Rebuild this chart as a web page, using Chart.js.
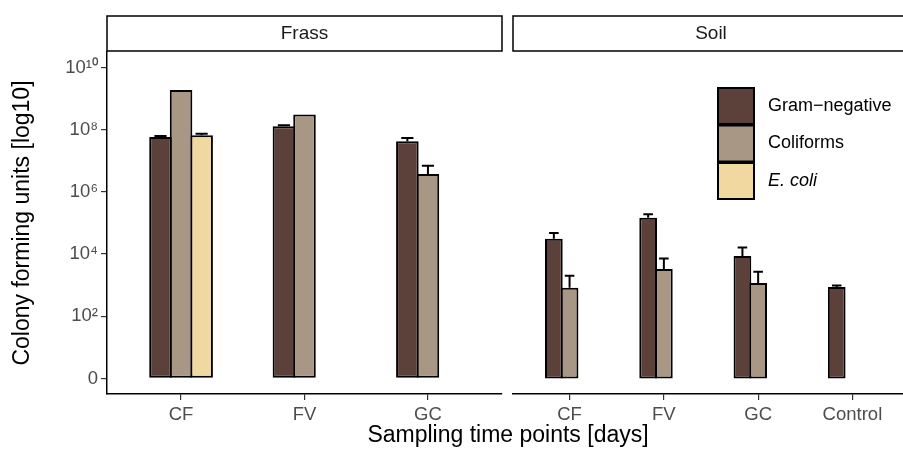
<!DOCTYPE html>
<html>
<head>
<meta charset="utf-8">
<script src="https://cdn.jsdelivr.net/npm/chart.js@4"></script>
<style>
  html, body { margin: 0; padding: 0; background: #fff; }
  #wrap { position: relative; width: 903px; height: 450px; overflow: hidden; font-family: 'Liberation Sans', Arial, sans-serif; }
  #frass { position: absolute; left: 0; top: 0; }
  #soil { position: absolute; left: 506px; top: 0; }
  #xtitle { position: absolute; left: 0; width: 1016px; top: 423px; text-align: center; font-size: 23px; line-height: 23px; color: #000; }
</style>
</head>
<body>
<div id="wrap">
  <canvas id="frass" width="506" height="450"></canvas>
  <canvas id="soil" width="407" height="450"></canvas>
  <div id="xtitle">Sampling time points [days]</div>
</div>
<script>
// categories per facet
const frassCats = ['CF', 'FV', 'GC'];
const soilCats = ['CF', 'FV', 'GC', 'Control'];
const seriesNames = ['Gram\u2212negative', 'Coliforms', 'E. coli'];
const seriesItalic = [false, false, true];
const seriesColors = ['#5b4139', '#a89784', '#f0d8a0'];

// bar heights, log10 CFU
const frassGramNeg = [7.77, 8.11, 7.63];
const frassColiforms = [9.28, 8.49, 6.58];
const frassEcoli = [7.82, null, null];
const soilGramNeg = [4.49, 5.17, 3.94, 2.94];
const soilColiforms = [2.92, 3.52, 3.07, null];
const soilEcoli = [null, null, null, null];

// upper end of the error bars, log10 CFU
const frassGramNegErr = [7.80, 8.14, 7.73];
const frassColiformsErr = [null, null, 6.84];
const frassEcoliErr = [7.87, null, null];
const soilGramNegErr = [4.68, 5.28, 4.21, 2.99];
const soilColiformsErr = [3.30, 3.86, 3.43, null];
const soilEcoliErr = [null, null, null, null];

const yTicks = [0, 2, 4, 6, 8, 10];
const yTickLabels = ['0', '10²', '10⁴', '10⁶', '10⁸', '10¹⁰'];

const FONT = "'Liberation Sans', Arial, sans-serif";
Chart.defaults.font.family = FONT;

// facet strip on top of each panel
const stripPlugin = {
    id: 'strip',
    afterDraw(chart, args, opts) {
        const { ctx, chartArea } = chart;
        ctx.save();
        ctx.fillStyle = '#fff';
        ctx.strokeStyle = '#000';
        ctx.lineWidth = 1.5;
        const w = chartArea.right - chartArea.left;
        ctx.fillRect(chartArea.left, 16, w, 35);
        ctx.strokeRect(chartArea.left, 16, w, 35);
        ctx.fillStyle = '#1a1a1a';
        ctx.font = '19px ' + FONT;
        ctx.textAlign = 'center';
        ctx.textBaseline = 'middle';
        ctx.fillText(opts.text, chartArea.left + w / 2, 34);
        ctx.restore();
    }
};

// upper error bars
const errorBarPlugin = {
    id: 'errbars',
    afterDatasetsDraw(chart) {
        const ctx = chart.ctx;
        const yScale = chart.scales.y;
        ctx.save();
        ctx.strokeStyle = '#000';
        ctx.lineWidth = 2;
        chart.data.datasets.forEach((ds, di) => {
            const meta = chart.getDatasetMeta(di);
            ds.errTop.forEach((e, i) => {
                if (e == null || ds.data[i].y == null) return;
                const bar = meta.data[i].getProps(['x', 'y', 'width'], true);
                const yTop = yScale.getPixelForValue(e);
                const half = bar.width * 0.27;
                ctx.beginPath();
                ctx.moveTo(bar.x, bar.y);
                ctx.lineTo(bar.x, yTop);
                ctx.moveTo(bar.x - half, yTop);
                ctx.lineTo(bar.x + half, yTop);
                ctx.stroke();
            });
        });
        ctx.restore();
    }
};

// legend inside the Soil panel
const boxLegendPlugin = {
    id: 'boxLegend',
    afterDraw(chart, args, opts) {
        if (!opts.show) return;
        const ctx = chart.ctx;
        ctx.save();
        chart.data.datasets.forEach((ds, i) => {
            const y = opts.top + i * opts.step;
            ctx.fillStyle = ds.backgroundColor;
            ctx.fillRect(opts.x, y, opts.size, opts.size);
            ctx.strokeStyle = '#000';
            ctx.lineWidth = 2;
            ctx.strokeRect(opts.x, y, opts.size, opts.size);
            ctx.fillStyle = '#000';
            ctx.font = (seriesItalic[i] ? 'italic ' : '') + '18px ' + FONT;
            ctx.textAlign = 'left';
            ctx.textBaseline = 'middle';
            ctx.fillText(ds.label, opts.textX, y + opts.size / 2);
        });
        ctx.restore();
    }
};

// barPct slightly above 1 so neighbouring bars share one outline
function makeFacet(id, cats, values, errs, strip, showY, showLegend, padLeft, padRight, barPct) {
    const datasets = values.map((vals, s) => ({
        label: seriesNames[s],
        data: vals.map((v, i) => ({ x: i + 1, y: v })),
        errTop: errs[s],
        backgroundColor: seriesColors[s],
        borderColor: '#000',
        borderWidth: 2,
        borderSkipped: false,
        categoryPercentage: 0.5,
        barPercentage: barPct
    }));
    return new Chart(document.getElementById(id), {
        type: 'bar',
        data: { datasets: datasets },
        plugins: [stripPlugin, errorBarPlugin, boxLegendPlugin],
        options: {
            responsive: false,
            animation: false,
            layout: { padding: { top: 52, left: padLeft, right: padRight, bottom: 0 } },
            plugins: {
                legend: { display: false },
                tooltip: { enabled: false },
                strip: { text: strip },
                boxLegend: { show: showLegend, x: 212, top: 88, size: 36, step: 37.5, textX: 262 }
            },
            scales: {
                x: {
                    type: 'linear',
                    min: 0.4,
                    max: cats.length + 0.6,
                    offset: false,
                    afterBuildTicks: s => { s.ticks = cats.map((c, i) => ({ value: i + 1 })); },
                    afterFit: s => { s.height = 56; },
                    ticks: {
                        callback: (v, i) => cats[i],
                        color: '#4d4d4d',
                        font: { size: 18.5 },
                        padding: 4,
                        autoSkip: false,
                        maxRotation: 0
                    },
                    grid: { display: true, offset: false, drawOnChartArea: false, drawTicks: true, tickLength: 6, color: '#333', lineWidth: 1.2 },
                    border: { display: true, color: '#000', width: 1.5 }
                },
                y: {
                    type: 'linear',
                    display: showY,
                    min: -0.5,
                    max: 10.5,
                    afterBuildTicks: s => { s.ticks = yTicks.map(v => ({ value: v })); },
                    afterFit: s => { s.width = showY ? 107 : 0; },
                    ticks: {
                        callback: (v, i) => yTickLabels[i],
                        color: '#4d4d4d',
                        font: { size: 18.5 },
                        padding: 3
                    },
                    title: {
                        display: true,
                        text: 'Colony forming units [log10]',
                        color: '#000',
                        font: { size: 23 },
                        padding: { top: 9, bottom: 0 }
                    },
                    grid: { display: true, drawOnChartArea: false, drawTicks: true, tickLength: 6, color: '#333', lineWidth: 1.2 },
                    border: { display: true, color: '#000', width: 1.5 }
                }
            }
        }
    });
}

makeFacet('frass', frassCats,
    [frassGramNeg, frassColiforms, frassEcoli],
    [frassGramNegErr, frassColiformsErr, frassEcoliErr],
    'Frass', true, false, 0, 4, 1.097);
makeFacet('soil', soilCats,
    [soilGramNeg, soilColiforms, soilEcoli],
    [soilGramNegErr, soilColiformsErr, soilEcoliErr],
    'Soil', false, true, 7, 4, 1.127);
</script>
</body>
</html>
